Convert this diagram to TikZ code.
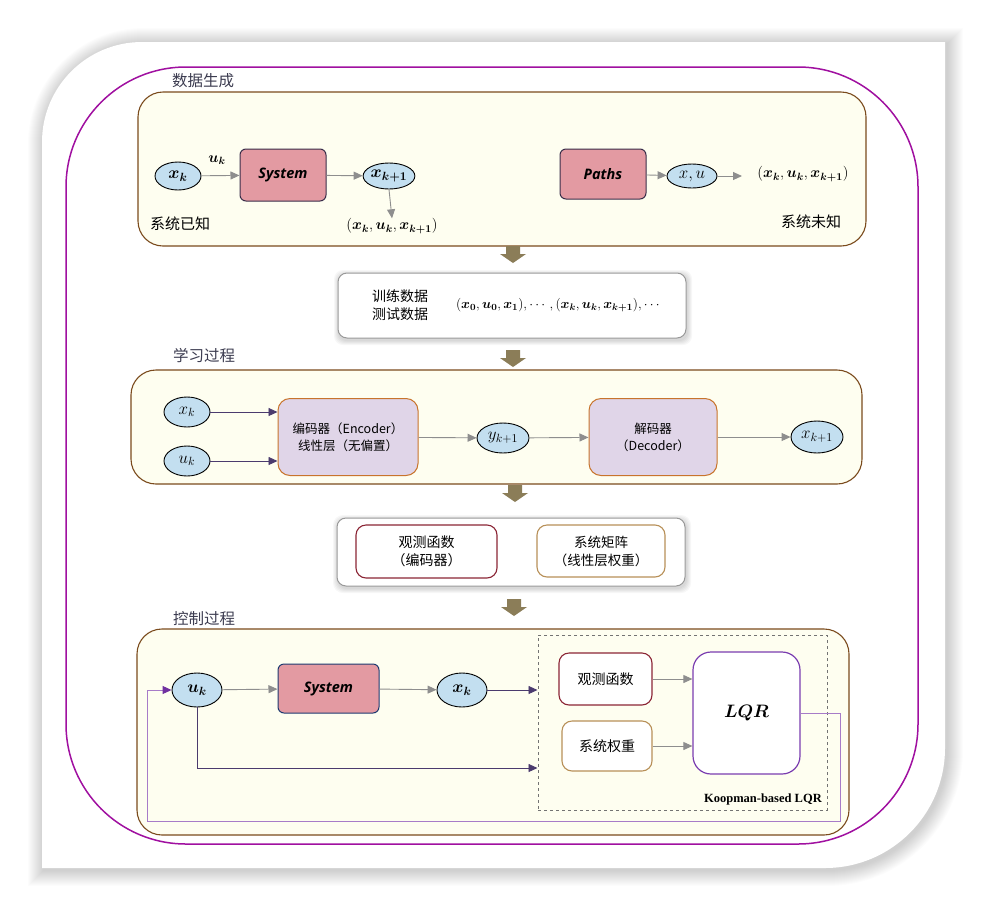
\RequirePackage{fix-cm}
\documentclass[tikz,border=0pt]{standalone}
\usepackage{amsmath}
\usepackage{bm}
\usepackage{fontspec}
\setmainfont{Noto Sans CJK SC}
\newfontfamily\uisans{Open Sans}
\newfontfamily\serifb{Liberation Serif}
\usetikzlibrary{arrows.meta,shapes.geometric}
\definecolor{bgyellow}{HTML}{FEFEF0}
\definecolor{secbrown}{HTML}{7B4B1D}
\definecolor{ellblue}{HTML}{C3DFF0}
\definecolor{syspink}{HTML}{E39AA2}
\definecolor{sysborder}{HTML}{3A2E4A}
\definecolor{navy}{HTML}{1E3A70}
\definecolor{encfill}{HTML}{E0D5E8}
\definecolor{encborder}{HTML}{C8742C}
\definecolor{obsred}{HTML}{8B2535}
\definecolor{systan}{HTML}{B89058}
\definecolor{lqrpurple}{HTML}{7A3DB0}
\definecolor{darkpurple}{HTML}{4B3B6E}
\definecolor{fbline}{HTML}{A77BC8}
\definecolor{fbtip}{HTML}{7030A0}
\definecolor{arrgray}{HTML}{8E8E8E}
\definecolor{framepurple}{HTML}{A010A0}
\definecolor{olive}{HTML}{8B7D58}
\definecolor{labelgray}{HTML}{3C3C50}
\definecolor{dashorange}{HTML}{F0A050}
\begin{document}
\begin{tikzpicture}[x=1pt,y=1pt,yscale=-1,
  secbox/.style={rectangle, rounded corners=25pt, draw=secbrown, line width=1.1pt, fill=bgyellow},
  seclabel/.style={font=\fontsize{15.5}{17}\selectfont, text=labelgray},
  ell/.style={ellipse, draw=black, line width=0.9pt, fill=ellblue, inner sep=0pt, font=\fontsize{17}{18}\selectfont},
  sysbox/.style={rectangle, rounded corners=6pt, line width=1pt, fill=syspink, font=\uisans\bfseries\itshape\fontsize{14.5}{16}\selectfont},
  encbox/.style={rectangle, rounded corners=12pt, draw=encborder, line width=1pt, fill=encfill, align=center, font=\fontsize{12.5}{17}\selectfont},
  whitebox/.style={rectangle, rounded corners=9pt, draw=black!40, line width=1pt, fill=white},
  obsbox/.style={rectangle, rounded corners=10pt, draw=obsred, line width=1.1pt, fill=white, align=center, font=\fontsize{14}{18}\selectfont},
  tanbox/.style={rectangle, rounded corners=10pt, draw=systan, line width=1.1pt, fill=white, align=center, font=\fontsize{14}{18}\selectfont},
  plain/.style={font=\fontsize{15}{17}\selectfont, inner sep=0pt},
  mathlab/.style={font=\fontsize{15}{16}\selectfont, inner sep=0pt},
  ga/.style={draw=arrgray, line width=0.9pt, -{Triangle[width=8pt,length=9pt]}},
  pa/.style={draw=darkpurple, line width=0.9pt, -{Triangle[width=8pt,length=9pt]}},
]
\useasboundingbox (0,0) rectangle (988,911);
% card shadow
\foreach \d in {1,...,16}{
  \pgfmathsetmacro\ra{100+\d}
  \pgfmathsetmacro\rb{120+\d}
  \fill[black,opacity=0.012] (42-\d+2,142+2) arc[start angle=180,end angle=270,radius=\ra pt] -- (945+\d+2,42-\d+2) -- (945+\d+2,748+2) arc[start angle=0,end angle=90,radius=\rb pt] -- (42-\d+2,868+\d+2) -- cycle;
}
% card
\fill[white] (42,142) arc[start angle=180,end angle=270,radius=100pt] -- (945,42) -- (945,748) arc[start angle=0,end angle=90,radius=120pt] -- (42,868) -- cycle;
% purple frame
\draw[framepurple, line width=1.5pt, rounded corners=120pt] (66,67) rectangle (918,844);

% ---------- section 1 ----------
\node[secbox, minimum width=728, minimum height=154] (sec1) at (502,169) {};
\node[seclabel] (lab1) at (203,81) {数据生成};
\draw[dashorange, line width=0.6pt, double=bgyellow, double distance=1.6pt, dash pattern=on 6pt off 5pt] (515,100) coordinate (dl1) -- (515,228) coordinate (dl2);
\node[ell, minimum width=46, minimum height=28] (e1xk) at (178,176) {$\bm{x_k}$};
\node[sysbox, draw=sysborder, minimum width=86, minimum height=52] (sys1) at (283,175) {System};
\node[ell, minimum width=46, minimum height=26] (e1xk1) at (389,176) {$\bm{x_{k+1}}$};
\draw[ga] (e1xk) -- (sys1);
\node[mathlab] (uk1) at (217,160) {$\bm{u_k}$};
\draw[ga] (sys1) -- (e1xk1);
\node[mathlab] (tup1) at (392,226) {$(\bm{x_k},\bm{u_k},\bm{x_{k+1}})$};
\draw[ga] (e1xk1.south) -- (tup1.north);
\node[plain] (known) at (180,224) {系统已知};
\node[sysbox, draw=sysborder, minimum width=86, minimum height=50] (paths) at (603,174) {Paths};
\node[ell, minimum width=50, minimum height=24] (exu) at (692,176) {$x,u$};
\draw[ga] (paths) -- (exu);
\coordinate (exuend) at (742,176);
\draw[ga] (exu) -- (exuend);
\node[mathlab] (tup2) at (803,174) {$(\bm{x_k},\bm{u_k},\bm{x_{k+1}})$};
\node[plain] (unknown) at (811,222) {系统未知};

% ---------- data box ----------
\foreach \d in {1,...,5}{
  \fill[black,opacity=0.03,rounded corners=9pt] (338-\d+1,273-\d+2) rectangle (686+\d+1,338+\d+2);
}
\node[whitebox, minimum width=348, minimum height=65] (data) at (512,305.5) {};
\node[plain, align=left, font=\fontsize{14}{18}\selectfont] (datalab) at (400,305) {训练数据\\测试数据};
\node[plain, font=\fontsize{13.5}{15}\selectfont] (datamath) at (559,305) {$(\bm{x_0},\bm{u_0},\bm{x_1}),\cdots,(\bm{x_k},\bm{u_k},\bm{x_{k+1}}),\cdots$};

% ---------- section 2 ----------
\node[secbox, minimum width=731, minimum height=114] (sec2) at (496.5,427) {};
\node[seclabel] (lab2) at (204,356) {学习过程};
\node[ell, minimum width=46, minimum height=30] (e2xk) at (187,412) {$x_k$};
\node[ell, minimum width=46, minimum height=30] (e2uk) at (187,461) {$u_k$};
\node[encbox, minimum width=140, minimum height=77] (enc) at (348,437) {编码器（Encoder）\\线性层（无偏置）};
\node[ell, minimum width=52, minimum height=30] (e2y) at (503,438) {$y_{k+1}$};
\node[encbox, minimum width=128, minimum height=77] (dec) at (653,437) {解码器\\（Decoder）};
\node[ell, minimum width=52, minimum height=32] (e2xk1) at (817,437) {$x_{k+1}$};
\draw[pa] (e2xk.east) -- (enc.west |- e2xk.east);
\draw[pa] (e2uk.east) -- (enc.west |- e2uk.east);
\draw[ga] (enc) -- (e2y);
\draw[ga] (e2y) -- (dec);
\draw[ga] (dec) -- (e2xk1);

% ---------- obs box ----------
\foreach \d in {1,...,5}{
  \fill[black,opacity=0.03,rounded corners=10pt] (337-\d+1,518-\d+2) rectangle (685+\d+1,586+\d+2);
}
\node[whitebox, minimum width=348, minimum height=68] (obs) at (511,552) {};
\node[obsbox, minimum width=141, minimum height=53] (obsfun) at (426.5,551.5) {观测函数\\（编码器）};
\node[tanbox, minimum width=128, minimum height=52, font=\fontsize{13.5}{18}\selectfont] (sysmat) at (601,551) {系统矩阵\\（线性层权重）};

% ---------- section 4 ----------
\node[secbox, minimum width=712, minimum height=206] (sec4) at (493,732) {};
\node[seclabel] (lab4) at (204,619) {控制过程};
\node[rectangle, draw=black!55, dashed, line width=1pt, minimum width=289, minimum height=175] (kbox) at (682.5,722.5) {};
\node[ell, minimum width=50, minimum height=34] (e4uk) at (197,690) {$\bm{u_k}$};
\node[sysbox, draw=navy, minimum width=101, minimum height=49] (sys4) at (328.5,688.5) {System};
\node[ell, minimum width=50, minimum height=34] (e4xk) at (462,690) {$\bm{x_k}$};
\node[obsbox, minimum width=93, minimum height=52] (obs4) at (605.5,679) {观测函数};
\node[tanbox, minimum width=90, minimum height=50] (sysw) at (607,746) {系统权重};
\node[rectangle, rounded corners=18pt, draw=lqrpurple, line width=1.2pt, fill=white, minimum width=107, minimum height=122, font=\fontsize{18}{20}\selectfont] (lqr) at (746.5,713) {$\bm{LQR}$};
\node[anchor=south east, inner sep=0pt, font=\serifb\bfseries\fontsize{12.5}{14}\selectfont] (kooplab) at (822,805) {Koopman-based LQR};
\draw[ga] (e4uk) -- (sys4);
\draw[ga] (sys4) -- (e4xk);
\draw[pa] (e4xk.east) -- (kbox.west |- e4xk.east);
\coordinate (ukcorner) at (e4uk.south |- 0,768);
\draw[pa] (e4uk.south) -- (ukcorner) -- (kbox.west |- ukcorner);
\draw[ga] (obs4.east) -- (lqr.west |- obs4.east);
\draw[ga] (sysw.east) -- (lqr.west |- sysw.east);
\coordinate (fb1) at (840,713);
\coordinate (fb2) at (840,821);
\coordinate (fb3) at (147,821);
\coordinate (fb4) at (147,690);
\draw[fbline, line width=0.9pt] (lqr.east |- fb1) -- (fb1) -- (fb2) -- (fb3) -- (fb4);
\draw[fbline, line width=0.9pt, -{Triangle[width=8pt,length=9pt,color=fbtip]}] (fb4) -- (e4uk.west);

% ---------- block arrows ----------
\foreach \ax/\ay [count=\n] in {513/246, 513/350, 515/485, 514/599}{
  \fill[olive] (\ax-7,\ay) -- (\ax+7,\ay) -- (\ax+7,\ay+8) -- (\ax+13,\ay+8) -- (\ax,\ay+17) -- (\ax-13,\ay+8) -- (\ax-7,\ay+8) -- cycle;
}
\end{tikzpicture}
\end{document}
